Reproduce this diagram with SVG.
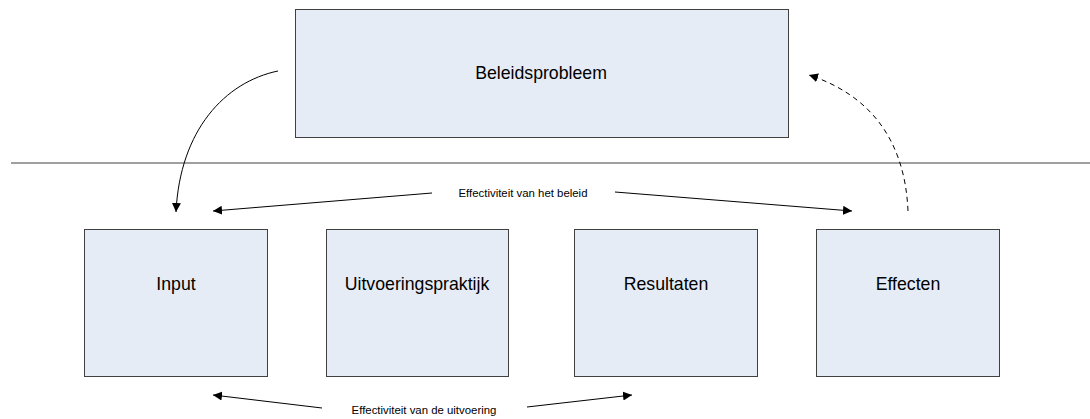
<svg xmlns="http://www.w3.org/2000/svg" width="1090" height="419" viewBox="0 0 1090 419">
<style>
.box{fill:#e6ecf6;stroke:#404040;stroke-width:1}
.lbl{font-family:"Liberation Sans",Arial,sans-serif;font-size:17.7px;fill:#000;text-anchor:middle}
.sm{font-family:"Liberation Sans",Arial,sans-serif;font-size:11.4px;fill:#000;text-anchor:middle}
.con{fill:none;stroke:#000;stroke-width:1}
</style>
<defs>
<marker id="ah" viewBox="0 0 10 10" refX="10" refY="5" markerWidth="9" markerHeight="9" markerUnits="userSpaceOnUse" orient="auto">
<path d="M0,0 L10,5 L0,10 z" fill="#000"/>
</marker>
</defs>
<line x1="11" y1="163" x2="1090" y2="163" stroke="#404040" stroke-width="1"/>
<g id="beleidsprobleem"><rect class="box" x="295.5" y="9.5" width="493" height="128"/><text class="lbl" x="541" y="79">Beleidsprobleem</text></g>
<g id="input"><rect class="box" x="84.5" y="229.5" width="183" height="147"/><text class="lbl" x="176" y="290">Input</text></g>
<g id="uitvoeringspraktijk"><rect class="box" x="326.5" y="229.5" width="182" height="147"/><text class="lbl" x="417" y="290">Uitvoeringspraktijk</text></g>
<g id="resultaten"><rect class="box" x="574.5" y="229.5" width="183" height="147"/><text class="lbl" x="666" y="290">Resultaten</text></g>
<g id="effecten"><rect class="box" x="816.5" y="229.5" width="183" height="147"/><text class="lbl" x="908" y="290">Effecten</text></g>
<g id="labels">
<text class="sm" x="523" y="197">Effectiviteit van het beleid</text>
<text class="sm" x="424" y="414">Effectiviteit van de uitvoering</text>
</g>
<g id="connectors">
<path class="con" stroke-width="1.3" d="M278,71 C225,82 180,130 176,212" marker-end="url(#ah)"/>
<path class="con" stroke-width="1.3" stroke-dasharray="5,4" d="M908,211 C905,140 870,95 809,75" marker-end="url(#ah)"/>
<path class="con" d="M432,193 L213,211" marker-end="url(#ah)"/>
<path class="con" d="M615,192 L852,211" marker-end="url(#ah)"/>
<path class="con" d="M322,408 L213,395" marker-end="url(#ah)"/>
<path class="con" d="M527,407 L632,395" marker-end="url(#ah)"/>
</g>
</svg>
